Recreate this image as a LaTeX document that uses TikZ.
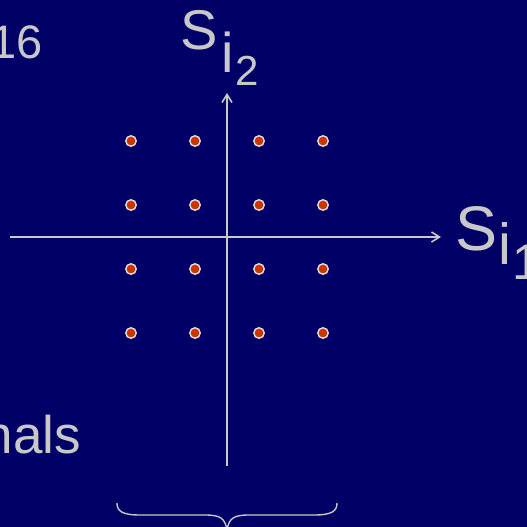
\documentclass[tikz,border=0pt]{standalone}
\usepackage{fontspec}
\setmainfont{Liberation Sans}
\usetikzlibrary{arrows.meta}
\definecolor{bgnavy}{HTML}{000066}
\definecolor{fg}{HTML}{C8C8C8}
\definecolor{dotred}{HTML}{CC3300}
\definecolor{dotring}{HTML}{E0E0E0}
\begin{document}
\begin{tikzpicture}[x=1pt,y=-1pt,
  axis/.style={draw=fg,line width=1.6pt,-{Straight Barb[length=8pt,width=10pt,line width=1.6pt]}},
  sig/.style={circle,fill=dotred,draw=dotring,line width=1.4pt,minimum size=10.5pt,inner sep=0pt},
  lab/.style={text=fg,inner sep=0pt}]
\useasboundingbox (0,0) rectangle (527,527);
\fill[bgnavy] (0,0) rectangle (527,527);
% axes
\coordinate (xl) at (10,237);
\coordinate (xr) at (441,237);
\coordinate (yb) at (227,466);
\coordinate (yt) at (227,93);
\draw[axis] (xl) -- (xr);
\draw[axis] (yb) -- (yt);
% constellation points
\foreach \i/\x in {1/131,2/195,3/259,4/323}{
  \foreach \j/\y in {1/141,2/205,3/269,4/333}{
    \node[sig] (p\i\j) at (\x,\y) {};
  }
}
% labels
\node[lab,anchor=base east,font=\fontsize{47}{50}\selectfont] (sixteen) at (43,59) {16};
\node[lab,anchor=base west,font=\fontsize{56}{60}\selectfont] (s2) at (180,49) {S};
\node[lab,anchor=base west,font=\fontsize{56}{60}\selectfont] (s2i) at (s2.base east) [yshift=-23pt,xshift=4pt] {i};
\node[lab,anchor=base west,font=\fontsize{42}{46}\selectfont] (s2n) at (s2i.base east) [yshift=-13pt,xshift=1pt] {2};
\node[lab,anchor=base west,font=\fontsize{63}{66}\selectfont] (s1) at (455,250) {S};
\node[lab,anchor=base west,font=\fontsize{58}{62}\selectfont] (s1i) at (s1.base east) [yshift=-14pt,xshift=1pt] {i};
\node[lab,anchor=base west,font=\fontsize{50}{54}\selectfont] (s1n) at (s1i.base east) [yshift=-15pt,xshift=1pt] {1};
\node[lab,anchor=base east,font=\fontsize{53}{56}\selectfont] (nals) at (81,453) {nals};
% brace
\coordinate (bl) at (117,503);
\coordinate (br) at (337,503);
\coordinate (bm) at (227,530);
\draw[fg,line width=1.4pt]
  (bl) .. controls (117,511) and (122,515) .. (140,515)
  -- (205,515) .. controls (220,515) and (225,518) .. (bm);
\draw[fg,line width=1.4pt]
  (br) .. controls (337,511) and (332,515) .. (314,515)
  -- (249,515) .. controls (234,515) and (229,518) .. (bm);
\end{tikzpicture}
\end{document}
